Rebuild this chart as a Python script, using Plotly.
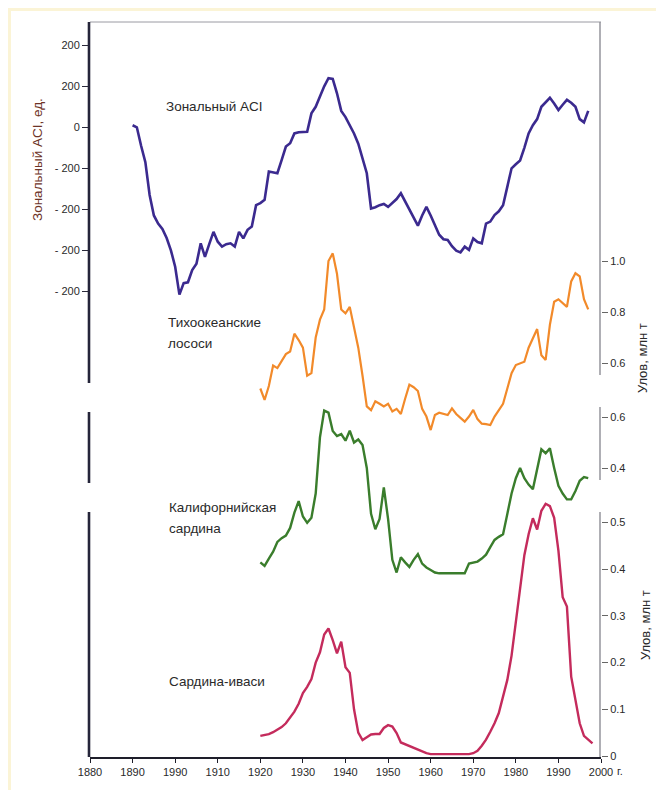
import plotly.graph_objects as go

# ---------------- data ----------------
aci_years = list(range(1890, 1998))
aci_values = [5, 0, -45, -85, -165, -215, -235, -248, -270, -300,
              -340, -408, -380, -378, -348, -333, -283, -316, -285, -255,
              -279, -291, -285, -283, -291, -255, -271, -250, -242, -190,
              -185, -177, -108, -110, -112, -80, -47, -39, -15, -12,
              -12, -11, 34, 50, 75, 100, 120, 118, 83, 40,
              25, 6, -15, -40, -75, -112, -198, -195, -190, -187,
              -194, -185, -175, -161, -180, -200, -220, -240, -215, -194,
              -215, -240, -262, -273, -275, -290, -301, -305, -291, -299,
              -271, -280, -283, -235, -230, -214, -205, -190, -147, -100,
              -90, -81, -50, -15, 5, 20, 50, 62, 72, 58,
              42, 55, 67, 60, 50, 20, 12, 40]

salmon_years = list(range(1920, 1998))
salmon_values = [0.50, 0.455, 0.51, 0.59, 0.58, 0.61, 0.635, 0.645, 0.715, 0.69,
                 0.66, 0.55, 0.56, 0.70, 0.77, 0.81, 1.00, 1.03, 0.95, 0.81,
                 0.795, 0.82, 0.74, 0.66, 0.55, 0.43, 0.415, 0.45, 0.44, 0.43,
                 0.44, 0.41, 0.42, 0.40, 0.46, 0.515, 0.505, 0.49, 0.42, 0.39,
                 0.337, 0.396, 0.405, 0.40, 0.396, 0.422, 0.40, 0.385, 0.37, 0.39,
                 0.416, 0.38, 0.362, 0.36, 0.357, 0.39, 0.416, 0.44, 0.50, 0.56,
                 0.592, 0.60, 0.605, 0.66, 0.70, 0.733, 0.63, 0.612, 0.75, 0.84,
                 0.85, 0.835, 0.82, 0.92, 0.952, 0.94, 0.85, 0.81]

calif_years = list(range(1920, 1998))
calif_values = [0.03, 0.016, 0.045, 0.072, 0.11, 0.125, 0.135, 0.165, 0.225, 0.27,
                0.21, 0.185, 0.205, 0.30, 0.52, 0.625, 0.617, 0.545, 0.525, 0.533,
                0.507, 0.546, 0.50, 0.512, 0.49, 0.40, 0.22, 0.16, 0.20, 0.324,
                0.20, 0.04, -0.01, 0.05, 0.03, 0.012, 0.04, 0.062, 0.025, 0.01,
                0.0, -0.01, -0.013, -0.013, -0.013, -0.013, -0.013, -0.013, -0.013, 0.025,
                0.03, 0.033, 0.045, 0.06, 0.09, 0.118, 0.13, 0.14, 0.22, 0.30,
                0.36, 0.40, 0.36, 0.335, 0.317, 0.40, 0.473, 0.458, 0.477, 0.40,
                0.33, 0.30, 0.277, 0.277, 0.31, 0.35, 0.364, 0.36]

iwashi_years = list(range(1920, 1999))
iwashi_values = [0.043, 0.045, 0.047, 0.051, 0.056, 0.062, 0.070, 0.082, 0.095, 0.112,
                 0.135, 0.148, 0.165, 0.20, 0.222, 0.26, 0.273, 0.248, 0.22, 0.245,
                 0.19, 0.178, 0.10, 0.05, 0.034, 0.04, 0.046, 0.047, 0.047, 0.06,
                 0.066, 0.063, 0.049, 0.029, 0.025, 0.021, 0.017, 0.013, 0.009, 0.006,
                 0.004, 0.004, 0.004, 0.004, 0.004, 0.004, 0.004, 0.004, 0.004, 0.004,
                 0.006, 0.011, 0.022, 0.035, 0.052, 0.07, 0.092, 0.125, 0.163, 0.215,
                 0.29, 0.36, 0.43, 0.475, 0.509, 0.485, 0.525, 0.54, 0.535, 0.51,
                 0.44, 0.34, 0.32, 0.17, 0.12, 0.07, 0.043, 0.036, 0.027]

x_tickvals = list(range(1880, 2001, 10))
x_ticktext = ["1880", "1890", "1990", "1910", "1920", "1930", "1940",
              "1950", "1960", "1970", "1980", "1990", "2000"]

aci_tickvals = [200, 100, 0, -100, -200, -300, -400]
aci_ticktext = ["200", "200", "0", "- 200", "- 200", "- 200", "- 200"]

salmon_tickvals = [0.6, 0.8, 1.0]
salmon_ticktext = ["0.6", "0.8", "1.0"]
calif_tickvals = [0.4, 0.6]
calif_ticktext = ["0.4", "0.6"]
iwashi_tickvals = [0, 0.1, 0.2, 0.3, 0.4, 0.5]
iwashi_ticktext = ["0", "0.1", "0.2", "0.3", "0.4", "0.5"]

# ---------------- layout geometry ----------------
# all positions below are given in screen pixels; the page body adds an
# 8 px margin around the figure, so the figure is laid out shifted by it.
OFF = 8
W, H = 664, 790
SCR_LEFT, SCR_RIGHT, SCR_TOP, SCR_BOT = 90, 601, 22, 757
L = SCR_LEFT - OFF
R = W - (SCR_RIGHT - OFF)
T = SCR_TOP - OFF
B = H - (SCR_BOT - OFF)
PW = SCR_RIGHT - SCR_LEFT


def axis_range(v1, y1, v2, y2):
    """range of an axis given two values and their screen pixel rows"""
    k = (v2 - v1) / (y2 - y1)
    return [v1 + (SCR_BOT - y1) * k, v1 + (SCR_TOP - y1) * k]


def py(ypx):
    return (SCR_BOT - ypx) / (SCR_BOT - SCR_TOP)


def px(xpx):
    return (xpx - SCR_LEFT) / PW


FONT = "Liberation Sans, Arial, sans-serif"
TXT = "#2a2a2a"

fig = go.Figure()
fig.add_trace(go.Scatter(x=aci_years, y=aci_values, mode="lines", yaxis="y",
                         line=dict(color="#3b2a8f", width=2.6), showlegend=False))
fig.add_trace(go.Scatter(x=salmon_years, y=salmon_values, mode="lines", yaxis="y2",
                         line=dict(color="#f28a2a", width=2.2), showlegend=False))
fig.add_trace(go.Scatter(x=calif_years, y=calif_values, mode="lines", yaxis="y3",
                         line=dict(color="#3a7d2c", width=2.4), showlegend=False))
fig.add_trace(go.Scatter(x=iwashi_years, y=iwashi_values, mode="lines", yaxis="y4",
                         line=dict(color="#c42b5c", width=2.4), showlegend=False))

tickfont = dict(family=FONT, size=11, color=TXT)

fig.update_layout(
    width=W, height=H,
    margin=dict(l=L, r=R, t=T, b=B, pad=0),
    paper_bgcolor="white",
    plot_bgcolor="rgba(0,0,0,0)",
    font=dict(family=FONT, color=TXT),
    xaxis=dict(range=[1880, 2000], tickvals=x_tickvals, ticktext=x_ticktext,
               showgrid=False, zeroline=False, showline=True, linecolor="#1e1e2a",
               linewidth=2, ticks="outside", ticklen=4, tickwidth=1.2,
               tickcolor="#1e1e2a", tickfont=tickfont),
    yaxis=dict(range=axis_range(0, 127.3, 100, 86.3), tickvals=aci_tickvals,
               ticktext=aci_ticktext, showgrid=False, zeroline=False, showline=False,
               ticks="outside", ticklen=7, tickwidth=1.4, tickcolor="#2a2a3a",
               tickfont=tickfont),
    yaxis2=dict(range=axis_range(1.0, 261, 0.8, 312), tickvals=salmon_tickvals,
                ticktext=salmon_ticktext, overlaying="y", side="right", anchor="x",
                showgrid=False, zeroline=False, showline=False, ticks="outside",
                ticklen=6, tickwidth=1, tickcolor="#666", tickfont=tickfont),
    yaxis3=dict(range=axis_range(0.6, 417, 0.4, 468), tickvals=calif_tickvals,
                ticktext=calif_ticktext, overlaying="y", side="right", anchor="x",
                showgrid=False, zeroline=False, showline=False, ticks="outside",
                ticklen=6, tickwidth=1, tickcolor="#666", tickfont=tickfont),
    yaxis4=dict(range=axis_range(0.0, 756, 0.5, 522.5), tickvals=iwashi_tickvals,
                ticktext=iwashi_ticktext, overlaying="y", side="right", anchor="x",
                showgrid=False, zeroline=False, showline=False, ticks="outside",
                ticklen=6, tickwidth=1, tickcolor="#666", tickfont=tickfont),
)

shapes = []
# pale yellow border strips of the scanned page
YEL = "#fbf4d6"
for x0, x1, y0, y1 in [(OFF, W, OFF, 11), (OFF, 11, OFF, H), (659, W, OFF, H)]:
    shapes.append(dict(type="rect", xref="paper", yref="paper", layer="below",
                       x0=px(x0), x1=px(x1), y0=py(y1), y1=py(y0),
                       fillcolor=YEL, line=dict(width=0)))
# top frame line
shapes.append(dict(type="line", xref="paper", yref="paper", x0=0, x1=1,
                   y0=1, y1=1, line=dict(color="#9a9aa2", width=1)))
# left axis segments
for a, b in [(22, 383), (412, 483), (512, SCR_BOT)]:
    shapes.append(dict(type="line", xref="paper", yref="paper", x0=px(89), x1=px(89),
                       y0=py(a), y1=py(b), line=dict(color="#25253a", width=2.6)))
# right axis segments
for a, b in [(22, 375), (407, 480), (512, SCR_BOT)]:
    shapes.append(dict(type="line", xref="paper", yref="paper", x0=px(600), x1=px(600),
                       y0=py(a), y1=py(b), line=dict(color="#8d8d95", width=1.4)))

annotations = []


def label(text, xpx, ypx, size=13.5, color=TXT, angle=0, xanchor="left"):
    annotations.append(dict(text=text, xref="paper", yref="paper",
                            x=px(xpx), y=py(ypx),
                            xanchor=xanchor, yanchor="middle", showarrow=False,
                            textangle=angle,
                            font=dict(family=FONT, size=size, color=color)))


label("Зональный ACI", 164, 106)
label("Тихоокеанские", 166, 322)
label("лососи", 166, 343)
label("Калифорнийская", 167, 508)
label("сардина", 167, 528)
label("Сардина-иваси", 167, 681)
label("Зональный ACI, ед.", 37, 160, size=13.5, color="#6e3427", angle=-90,
      xanchor="center")
label("Улов, млн т", 642, 358, size=13, angle=-90, xanchor="center")
label("Улов, млн т", 645, 625, size=13, angle=-90, xanchor="center")
label("г.", 615, 771, size=11)

fig.update_layout(shapes=shapes, annotations=annotations)

fig.write_html("out.html")
